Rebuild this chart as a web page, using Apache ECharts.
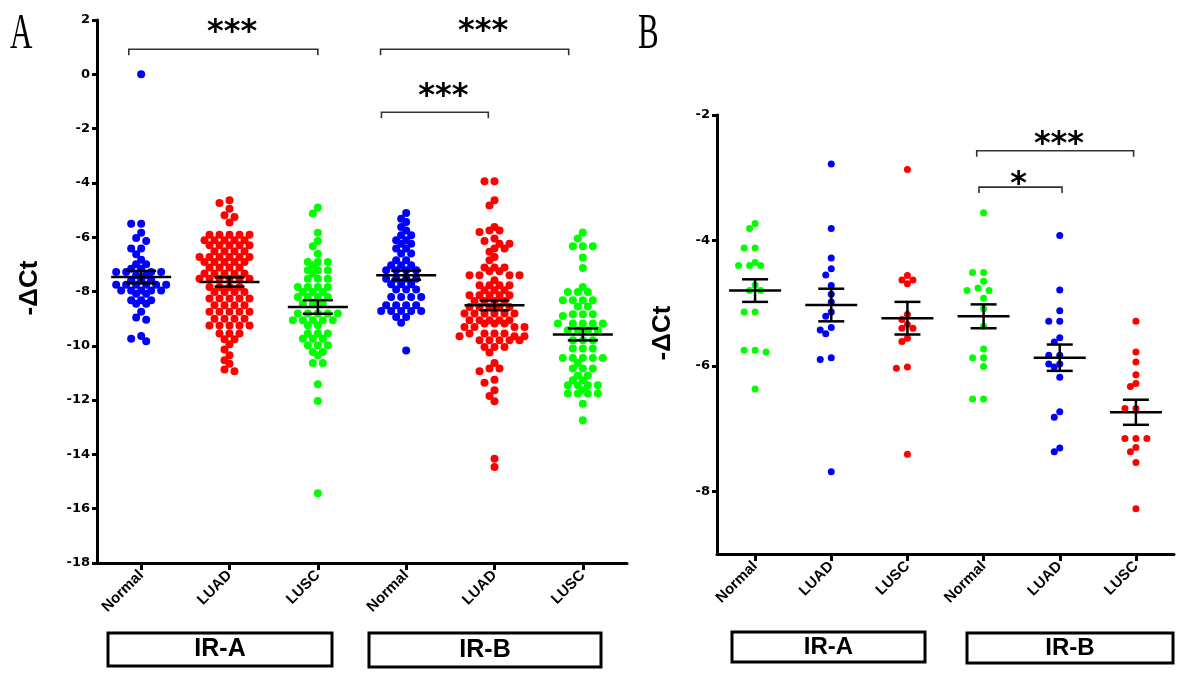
<!DOCTYPE html>
<html><head><meta charset="utf-8">
<script src="https://cdn.jsdelivr.net/npm/echarts@6/dist/echarts.min.js"></script>
<style>html,body{margin:0;padding:0;background:#fff}#c{width:1200px;height:675px}</style>
</head><body><div id="c"></div>
<script>
// ---------- data ----------
const categories = ['Normal', 'LUAD', 'LUSC', 'Normal', 'LUAD', 'LUSC'];
const groupLabels = ['IR-A', 'IR-B'];
const yTicksA = [-18, -16, -14, -12, -10, -8, -6, -4, -2, 0, 2];
const yTicksB = [-8, -6, -4, -2];

// Panel A values (-ΔCt)
const A_IRA_Normal = [0.0, -5.50, -5.50, -5.84, -6.03, -6.14, -6.42, -6.42, -6.63, -6.83, -7.00, -7.00, -7.16, -7.16, -7.28, -7.28, -7.28, -7.28, -7.40, -7.40, -7.59, -7.59, -7.59, -7.75, -7.75, -7.75, -7.75, -7.75, -7.75, -7.96, -7.96, -7.96, -7.96, -7.96, -8.08, -8.08, -8.32, -8.32, -8.32, -8.45, -8.45, -8.75, -8.96, -9.04, -9.64, -9.74, -9.83];
const A_IRA_LUAD = [-4.64, -4.74, -4.95, -5.19, -5.26, -5.46,
  -5.91, -5.91, -5.91, -5.91, -5.91, -6.11, -6.11, -6.11, -6.11, -6.11, -6.30, -6.30, -6.30, -6.30, -6.30,
  -6.52, -6.52, -6.52, -6.52, -6.73, -6.73, -6.73, -6.73, -6.73, -6.73, -6.91, -6.91, -6.91, -6.91, -6.91,
  -7.12, -7.12, -7.12, -7.12, -7.34, -7.34, -7.34, -7.34, -7.34, -7.53, -7.53, -7.53, -7.53, -7.53, -7.53,
  -7.83, -7.83, -7.83, -7.83, -8.02, -8.02, -8.02, -8.02, -8.26, -8.26, -8.26, -8.26, -8.26,
  -8.51, -8.51, -8.51, -8.51, -8.75, -8.75, -8.75, -8.75, -8.75, -9.00, -9.00, -9.00, -9.00,
  -9.25, -9.25, -9.25, -9.25, -9.25, -9.55, -9.55, -9.55, -9.76, -9.76, -9.94, -10.14, -10.35, -10.53, -10.66, -10.87, -10.94];
const A_IRA_LUSC = [-4.91, -5.13, -5.84, -6.14, -6.33, -6.61, -6.91, -6.91, -6.91, -7.03, -7.22, -7.22, -7.22, -7.34,
  -7.53, -7.53, -7.53, -7.83, -7.83, -7.83, -7.83, -8.02, -8.02, -8.02, -8.20, -8.20, -8.20, -8.20, -8.45, -8.45, -8.45,
  -8.81, -8.81, -8.81, -8.81, -8.81, -9.06, -9.06, -9.06, -9.06, -9.06, -9.24, -9.24, -9.55, -9.55, -9.55,
  -9.74, -9.74, -9.74, -9.98, -9.98, -9.98, -10.23, -10.23, -10.35, -10.63, -10.63, -11.42, -12.03, -15.43];
const A_IRB_Normal = [-5.11, -5.32, -5.44, -5.62, -5.75, -5.93, -5.93, -6.11, -6.11, -6.24, -6.24, -6.42, -6.42, -6.60, -6.60,
  -6.85, -6.85, -7.03, -7.03, -7.03, -7.22, -7.22, -7.22, -7.22, -7.53, -7.53, -7.53, -7.53, -7.73, -7.73, -7.73,
  -7.93, -7.93, -7.93, -8.20, -8.20, -8.20, -8.20, -8.51, -8.51, -8.51, -8.51, -8.72, -8.72, -8.72, -8.72, -8.72,
  -8.94, -8.94, -9.15, -10.17];
const A_IRB_LUAD = [-3.94, -3.94, -4.64, -4.83, -5.62, -5.75, -5.75, -5.81, -6.05, -6.14, -6.24, -6.24, -6.42, -6.42, -6.54,
  -6.73, -6.85, -7.12, -7.12, -7.12, -7.25, -7.25, -7.40, -7.40, -7.40, -7.40, -7.59, -7.77, -7.77, -7.77, -7.77,
  -7.95, -7.95, -7.95, -8.14, -8.14, -8.14, -8.14, -8.14, -8.35, -8.35, -8.35, -8.35, -8.57, -8.57, -8.57, -8.57, -8.57,
  -8.81, -8.81, -8.81, -8.81, -8.81, -8.81, -9.06, -9.06, -9.06, -9.06, -9.06, -9.18, -9.18, -9.18, -9.31, -9.31, -9.31, -9.31,
  -9.55, -9.55, -9.55, -9.55, -9.65, -9.65, -9.65, -9.80, -9.80, -9.80, -9.80, -9.80, -10.04, -10.04, -10.04, -10.25,
  -10.63, -10.84, -10.84, -10.94, -11.25, -11.36, -11.64, -11.85, -12.04, -14.16, -14.46];
const A_IRB_LUSC = [-5.83, -6.05, -6.33, -6.33, -6.33, -6.75, -7.13, -7.83, -8.02, -8.02, -8.02, -8.32, -8.32, -8.32, -8.32,
  -8.55, -8.55, -8.84, -8.84, -8.84, -8.90, -9.18, -9.18, -9.18, -9.18, -9.18, -9.43, -9.43, -9.43, -9.43,
  -9.80, -9.80, -9.80, -10.10, -10.10, -10.10, -10.45, -10.45, -10.45, -10.45, -10.45, -10.63, -10.84, -10.84, -10.84,
  -11.09, -11.09, -11.27, -11.27, -11.45, -11.45, -11.45, -11.45, -11.64, -11.76, -11.76, -11.76, -11.76, -12.13, -12.74];
const A_means = [-7.47, -7.65, -8.57, -7.40, -8.51, -9.58];
const A_sem = [0.23, 0.17, 0.25, 0.17, 0.18, 0.22];

// Panel B values (-ΔCt)
const B_IRA_Normal = [-3.73, -3.81, -4.12, -4.12, -4.35, -4.40, -4.40, -4.40, -4.71, -4.80, -4.80, -5.14, -5.14, -5.75, -5.75, -5.78, -6.37];
const B_IRA_LUAD = [-2.78, -3.81, -4.28, -4.45, -4.55, -4.72, -4.86, -4.98, -5.14, -5.21, -5.39, -5.43, -5.49, -5.87, -5.90, -7.69];
const B_IRA_LUSC = [-2.87, -4.56, -4.63, -4.63, -4.69, -5.18, -5.26, -5.40, -5.40, -5.34, -5.56, -5.61, -6.02, -6.04, -7.41];
const B_IRB_Normal = [-3.56, -4.51, -4.51, -4.65, -4.76, -4.80, -4.80, -4.92, -5.09, -5.37, -5.73, -5.87, -5.87, -6.01, -6.53, -6.53];
const B_IRB_LUAD = [-3.92, -4.79, -5.12, -5.29, -5.29, -5.55, -5.62, -5.83, -5.83, -5.97, -5.97, -6.02, -6.18, -6.73, -6.82, -7.31, -7.37];
const B_IRB_LUSC = [-5.29, -5.78, -5.94, -6.14, -6.28, -6.33, -6.68, -6.68, -7.16, -7.16, -7.16, -7.30, -7.37, -7.54, -8.28];
const B_means = [-4.80, -5.03, -5.24, -5.21, -5.87, -6.74];
const B_sem = [0.18, 0.26, 0.26, 0.19, 0.21, 0.20];

// significance brackets: [x1, x2, yLine, text, textX, textY]  (data units)
const A_brackets = [[-0.14, 2.0, 0.92, '***', 1.03, 1.77], [2.71, 4.84, 0.92, '***', 3.87, 1.80], [2.72, 3.93, -1.40, '***', 3.42, -0.59]];
const B_brackets = [[2.91, 4.97, -2.57, '***', 3.99, -2.37], [2.94, 4.03, -3.15, '*', 3.46, -3.01]];

// ---------- layout / styles ----------
const BLUE = '#0000FF', RED = '#FF0000', GREEN = '#00FF00';
const A_colors = [BLUE, RED, GREEN, BLUE, RED, GREEN];
const B_colors = [GREEN, BLUE, RED, GREEN, BLUE, RED];
const gridA = {left: 97, right: 573, top: 20, bottom: 112};
const gridB = {left: 717, right: 26, top: 115, bottom: 121};
const W = 1200, H = 675;

// swarm offsets: points in the same pixel row are spaced by Dx, neighbouring rows stagger by Dx/2
function swarm(values, pxPerX, pxPerY, Dx, rowH, Dy) {
  const idx = values.map((v, i) => i).sort((a, b) => values[b] - values[a]);
  const placed = [], off = new Array(values.length);
  for (const i of idx) {
    const py = -values[i] * pxPerY;
    const forb = [];
    for (const p of placed) {
      const dy = Math.abs(p.y - py);
      if (dy < Dy) { const w = dy < rowH ? Dx : Dx / 2; forb.push([p.x - w, p.x + w]); }
    }
    const cands = [0];
    forb.forEach(f => cands.push(f[0], f[1]));
    cands.sort((a, b) => (Math.abs(a) - Math.abs(b)) || (a - b));
    let x = 0;
    for (const c of cands) { if (!forb.some(f => c > f[0] + 1e-6 && c < f[1] - 1e-6)) { x = c; break; } }
    placed.push({x, y: py});
    off[i] = x / pxPerX;
  }
  return off;
}

function gridScale(g, yMin, yMax) {
  const w = W - g.left - g.right, h = H - g.top - g.bottom;
  return {px: w / 6, py: h / (yMax - yMin)};
}
const sA = gridScale(gridA, -18, 2), sB = gridScale(gridB, -9, -2);

const series = [];
function addPanel(groups, colors, means, sems, sc, sw, dot, xIdx, yIdx, meanHalf, capHalf, brackets) {
  groups.forEach((vals, i) => {
    const off = swarm(vals, sc.px, sc.py, sw[0], sw[1], sw[2]);
    series.push({type: 'scatter', xAxisIndex: xIdx, yAxisIndex: yIdx, symbol: 'circle', symbolSize: dot,
      itemStyle: {color: colors[i], opacity: 1}, silent: true, z: 2,
      data: vals.map((v, k) => [i + off[k], v])});
  });
  series.push({type: 'custom', xAxisIndex: xIdx, yAxisIndex: yIdx, z: 5, silent: true,
    data: means.map((m, i) => [i, m, sems[i]]),
    renderItem(params, api) {
      const x = api.value(0), m = api.value(1), s = api.value(2);
      const c = api.coord([x, m]), hi = api.coord([x, m + s]), lo = api.coord([x, m - s]);
      const st = {stroke: '#000', lineWidth: 2.5};
      return {type: 'group', children: [
        {type: 'line', shape: {x1: c[0] - meanHalf, y1: c[1], x2: c[0] + meanHalf, y2: c[1]}, style: st},
        {type: 'line', shape: {x1: c[0], y1: hi[1], x2: c[0], y2: lo[1]}, style: st},
        {type: 'line', shape: {x1: c[0] - capHalf, y1: hi[1], x2: c[0] + capHalf, y2: hi[1]}, style: st},
        {type: 'line', shape: {x1: c[0] - capHalf, y1: lo[1], x2: c[0] + capHalf, y2: lo[1]}, style: st}
      ]};
    }});
  series.push({type: 'custom', xAxisIndex: xIdx, yAxisIndex: yIdx, z: 6, silent: true,
    data: brackets.map(b => [b[0], b[2]]),
    renderItem(params, api) {
      const b = brackets[params.dataIndex];
      const p1 = api.coord([b[0], b[2]]), p2 = api.coord([b[1], b[2]]), t = api.coord([b[4], b[5]]);
      return {type: 'group', children: [
        {type: 'polyline', shape: {points: [[p1[0], p1[1] + 6], [p1[0], p1[1]], [p2[0], p2[1]], [p2[0], p2[1] + 6]]},
          style: {stroke: '#333', lineWidth: 1.6, fill: null}},
        {type: 'text', x: t[0], y: t[1] + 6, style: {text: b[3], fill: '#000', font: 'bold 32px "DejaVu Sans"', align: 'center', verticalAlign: 'middle'}}
      ]};
    }});
}
addPanel([A_IRA_Normal, A_IRA_LUAD, A_IRA_LUSC, A_IRB_Normal, A_IRB_LUAD, A_IRB_LUSC], A_colors, A_means, A_sem, sA, [10, 3, 8], 8, 1, 0, 30, 15, A_brackets);
addPanel([B_IRA_Normal, B_IRA_LUAD, B_IRA_LUSC, B_IRB_Normal, B_IRB_LUAD, B_IRB_LUSC], B_colors, B_means, B_sem, sB, [11, 3, 7.5], 7, 3, 1, 26, 13, B_brackets);

const axisLine = {show: true, onZero: false, lineStyle: {color: '#000', width: 3}};
const catAxis = (gi) => ({type: 'category', gridIndex: gi, data: categories, boundaryGap: true, axisLine,
  axisTick: {show: true, alignWithLabel: true, length: 7, lineStyle: {color: '#000', width: 3}},
  axisLabel: {rotate: 45, color: '#000', fontWeight: 'bold', fontSize: 15, fontFamily: 'Liberation Sans', margin: 10, interval: 0},
  splitLine: {show: false}});
const valX = (gi) => ({type: 'value', gridIndex: gi, min: -0.5, max: 5.5, show: false});
const yLab = {color: '#000', fontWeight: 'bold', fontSize: 13, fontFamily: 'DejaVu Sans', margin: 7};
const yTick = {show: true, length: 5, lineStyle: {color: '#000', width: 3}};

const textStyleBold = (s) => ({fill: '#000', font: 'bold ' + s + 'px "Liberation Sans"', textAlign: 'center', textVerticalAlign: 'middle'});
function box(x1, y1, x2, y2, label, fs) {
  return [{type: 'rect', shape: {x: x1, y: y1, width: x2 - x1, height: y2 - y1}, style: {fill: '#fff', stroke: '#000', lineWidth: 3}},
    {type: 'text', x: (x1 + x2) / 2, y: (y1 + y2) / 2, style: Object.assign({text: label}, textStyleBold(fs))}];
}

const option = {
  animation: false,
  backgroundColor: '#fff',
  grid: [Object.assign({containLabel: false}, gridA), Object.assign({containLabel: false}, gridB)],
  xAxis: [catAxis(0), valX(0), catAxis(1), valX(1)],
  yAxis: [
    {type: 'value', gridIndex: 0, min: -18, max: 2, interval: 2, axisLine, axisTick: yTick, axisLabel: yLab, splitLine: {show: false}},
    {type: 'value', gridIndex: 1, min: -9, max: -2, axisLine,
      axisTick: Object.assign({customValues: yTicksB}, yTick),
      axisLabel: Object.assign({customValues: yTicksB}, yLab), splitLine: {show: false}}
  ],
  series,
  graphic: [
    {type: 'text', x: 10, y: 10, scaleX: 0.62, style: {text: 'A', fill: '#000', font: '50px "Liberation Serif"'}},
    {type: 'text', x: 638, y: 10, scaleX: 0.62, style: {text: 'B', fill: '#000', font: '50px "Liberation Serif"'}},
    {type: 'text', x: 30, y: 288, rotation: Math.PI / 2, style: Object.assign({text: '-ΔCt'}, textStyleBold(26))},
    {type: 'text', x: 663, y: 333, rotation: Math.PI / 2, style: Object.assign({text: '-ΔCt'}, textStyleBold(26))},
    ...box(108, 633, 332, 666, groupLabels[0], 25),
    ...box(369, 633, 601, 667, groupLabels[1], 25),
    ...box(732, 632, 925, 662, groupLabels[0], 24),
    ...box(967, 633, 1173, 663, groupLabels[1], 24)
  ]
};
const chart = echarts.init(document.getElementById('c'), null, {renderer: 'canvas'});
chart.setOption(option);
</script>
</body></html>
